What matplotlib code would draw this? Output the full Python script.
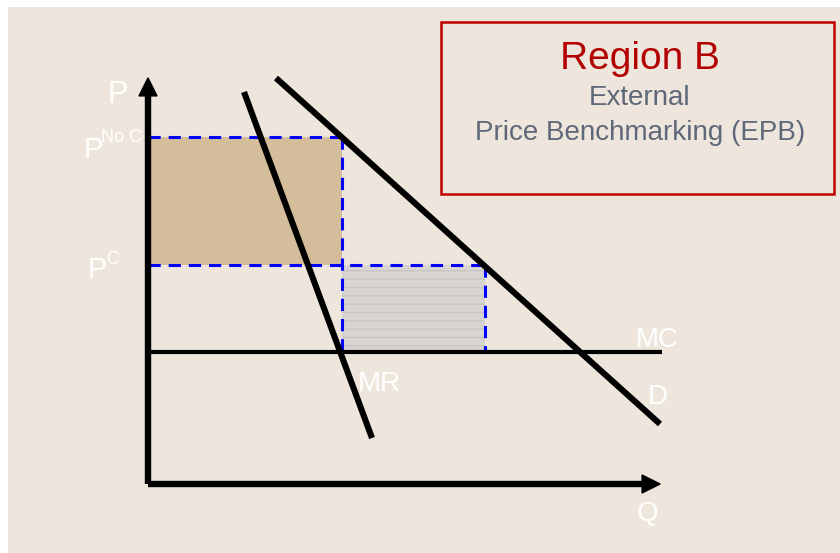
import matplotlib
matplotlib.use("Agg")
import matplotlib.pyplot as plt
from matplotlib.patches import Rectangle, FancyArrow
from matplotlib import font_manager

names = {f.name for f in font_manager.fontManager.ttflist}
FAM = ['Liberation Sans Narrow', 'Liberation Sans', 'DejaVu Sans'] if 'Liberation Sans Narrow' in names else ['Liberation Sans', 'DejaVu Sans']
plt.rcParams['font.family'] = FAM

# ---- data (economic units) ----
p_no_c = 34.7        # price without benchmarking
p_c = 21.9           # price with benchmarking
mc = 13.2            # marginal cost
q_no_c = 19.4        # quantity at P no C
q_c = 33.7           # quantity at P C
demand_q = [12.8, 51.2]
demand_p = [40.6, 6.0]
mr_q = [9.6, 22.4]
mr_p = [39.2, 4.6]
mc_q = [0.0, 51.4]
axis_q_max = 51.2
axis_p_max = 40.6

title = "Region B"
subtitle = ["External", "Price Benchmarking (EPB)"]

fig = plt.figure(figsize=(8.4, 5.53), dpi=100)
fig.patch.set_facecolor('white')

ax = fig.add_axes([0, 0, 1, 1])
ax.set_xlim(-14.8, 69.2)
ax.set_ylim(-6.9, 48.4)
ax.axis('off')
ax.add_patch(Rectangle((8/840, 0), 1, 1 - 7/553, transform=ax.transAxes,
                       facecolor='#EEE6DC', edgecolor='none', zorder=0))

# shaded areas
ax.add_patch(Rectangle((0, p_c), q_no_c, p_no_c - p_c, facecolor='#D4BD9A', edgecolor='none', zorder=1))
ax.add_patch(Rectangle((q_no_c, mc), q_c - q_no_c, p_c - mc, facecolor='#D7D4D1',
                       edgecolor='#C8C5C5', hatch='--', linewidth=0, zorder=1))

# blue dashed guides
dash = dict(color='#0000FF', linewidth=2.2, linestyle=(0, (4, 2.6)), zorder=2)
ax.plot([0, q_no_c], [p_no_c, p_no_c], **dash)
ax.plot([q_no_c, q_no_c], [p_no_c, mc], **dash)
ax.plot([0, q_c], [p_c, p_c], **dash)
ax.plot([q_c, q_c], [p_c, mc], **dash)

# curves
ax.plot(mc_q, [mc, mc], color='black', linewidth=3.0, solid_capstyle='butt', zorder=3)
ax.plot(demand_q, demand_p, color='black', linewidth=4.4, solid_capstyle='butt', zorder=3)
ax.plot(mr_q, mr_p, color='black', linewidth=4.4, solid_capstyle='butt', zorder=3)

# axes arrows
ax.plot([0, 0], [0, axis_p_max - 1.6], color='black', linewidth=4.6, solid_capstyle='butt', zorder=4)
ax.plot([0, axis_q_max - 1.6], [0, 0], color='black', linewidth=4.6, solid_capstyle='butt', zorder=4)
ax.add_patch(FancyArrow(0, axis_p_max - 1.8, 0, 0.01, width=0, head_width=1.8, head_length=1.8,
                        length_includes_head=False, color='black', zorder=5))
ax.add_patch(FancyArrow(axis_q_max - 1.8, 0, 0.01, 0, width=0, head_width=1.8, head_length=1.8,
                        length_includes_head=False, color='black', zorder=5))

# labels
w = dict(color='white', zorder=6)
ax.text(-4.1, 38.9, "P", fontsize=22, ha='left', va='center', **w)
ax.text(-6.4, 33.4, "P", fontsize=21, ha='left', va='center', **w)
ax.text(-4.7, 34.6, "No C", fontsize=13, ha='left', va='center', **w)
ax.text(-6.0, 21.4, "P", fontsize=21, ha='left', va='center', **w)
ax.text(-4.2, 22.4, "C", fontsize=13, ha='left', va='center', **w)
ax.text(48.8, 14.4, "MC", fontsize=20, ha='left', va='center', **w)
ax.text(50.0, 8.7, "D", fontsize=20, ha='left', va='center', **w)
ax.text(21.0, 10.0, "MR", fontsize=20, ha='left', va='center', **w)
ax.text(48.9, -3.0, "Q", fontsize=20, ha='left', va='center', **w)

# title box
ax.add_patch(Rectangle((29.3, 29.0), 39.3, 17.2, facecolor='none', edgecolor='#C00000', linewidth=1.8, zorder=6))
ax.text(49.2, 42.5, title, fontsize=28, color='#B20000', ha='center', va='center', zorder=7)
ax.text(49.2, 38.6, subtitle[0], fontsize=20, color='#5E6878', ha='center', va='center', zorder=7)
ax.text(49.2, 35.1, subtitle[1], fontsize=20, color='#5E6878', ha='center', va='center', zorder=7)

fig.savefig("out.png", dpi=100, facecolor=fig.get_facecolor())
